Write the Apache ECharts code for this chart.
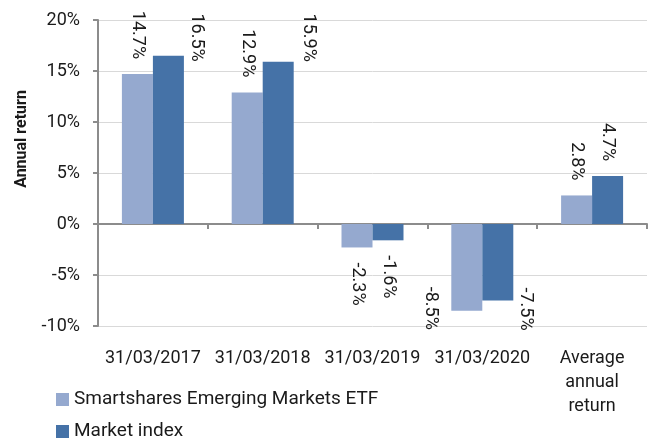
<!DOCTYPE html>
<html>
<head>
<meta charset="utf-8">
<script src="https://cdn.jsdelivr.net/npm/echarts@6/dist/echarts.min.js"></script>
<style>
  html, body { margin: 0; padding: 0; background: #fff; }
  #chart { width: 651px; height: 441px; }
</style>
</head>
<body>
<div id="chart"></div>
<script>
  const categories = ['31/03/2017', '31/03/2018', '31/03/2019', '31/03/2020', 'Average\nannual\nreturn'];
  const seriesNames = ['Smartshares Emerging Markets ETF', 'Market index'];
  const etfReturns = [14.7, 12.9, -2.3, -8.5, 2.8];
  const indexReturns = [16.5, 15.9, -1.6, -7.5, 4.7];
  const yTicks = [-10, -5, 0, 5, 10, 15, 20];

  // labels that Excel pushed sideways because they ran into neighbours / the top
  const etfShift = { 3: [-36, -39] };
  const indexShift = { 0: [28, 21], 1: [30, 15], 3: [28, -28] };

  const font = 'Roboto, "Noto Sans", sans-serif';

  const buildData = (values, shifts) =>
    values.map((v, i) => {
      const s = shifts[i] || [0, 0];
      return {
        value: v,
        label: {
          position: v >= 0 ? 'top' : 'bottom',
          align: v >= 0 ? 'right' : 'left',
          // rotated frame: local x is screen down, local y is screen left
          offset: [s[1], -s[0]],
        },
      };
    });

  const labelStyle = {
    show: true,
    rotate: -90,
    verticalAlign: 'middle',
    distance: 15,
    fontFamily: font,
    fontSize: 18,
    color: '#1a1a1a',
    formatter: (p) => p.value.toFixed(1) + '%',
  };

  const legendBase = {
    orient: 'vertical',
    left: 56,
    padding: 0,
    itemWidth: 13,
    itemHeight: 13,
    itemGap: 4,
    icon: 'rect',
    textStyle: { fontFamily: font, fontSize: 19, color: '#1a1a1a' },
  };

  const option = {
    animation: false,
    textStyle: { fontFamily: font },
    grid: { left: 98, right: 4, top: 20, bottom: 115 },
    legend: [
      Object.assign({ data: [seriesNames[0]], top: 390 }, legendBase),
      Object.assign({ data: [seriesNames[1]], top: 422 }, legendBase),
    ],
    xAxis: {
      type: 'category',
      data: categories,
      axisLine: { onZero: true, lineStyle: { color: '#8c8c8c', width: 2 } },
      axisTick: { show: true, length: 5, lineStyle: { color: '#8c8c8c', width: 2 } },
      axisLabel: {
        interval: 0,
        margin: 20,
        verticalAlign: 'top',
        lineHeight: 24,
        fontFamily: font,
        fontSize: 18,
        color: '#1a1a1a',
      },
    },
    yAxis: {
      type: 'value',
      min: yTicks[0],
      max: yTicks[yTicks.length - 1],
      interval: 5,
      name: 'Annual return',
      nameLocation: 'middle',
      nameGap: 68,
      nameTextStyle: {
        fontFamily: font,
        fontSize: 16,
        fontWeight: 'bold',
        color: '#1a1a1a',
        padding: [0, 0, 0, 68],
      },
      axisLine: { show: true, lineStyle: { color: '#8c8c8c', width: 2 } },
      axisTick: { show: true, length: 5, lineStyle: { color: '#8c8c8c', width: 2 } },
      axisLabel: {
        margin: 18,
        fontFamily: font,
        fontSize: 18,
        color: '#1a1a1a',
        formatter: '{value}%',
      },
      splitLine: { lineStyle: { color: '#d9d9d9', width: 1 } },
    },
    series: [
      {
        name: seriesNames[0],
        type: 'bar',
        barWidth: 31,
        barGap: '0%',
        itemStyle: { color: '#95a9cf' },
        label: labelStyle,
        data: buildData(etfReturns, etfShift),
      },
      {
        name: seriesNames[1],
        type: 'bar',
        barWidth: 31,
        itemStyle: { color: '#4572a7' },
        label: labelStyle,
        data: buildData(indexReturns, indexShift),
      },
    ],
  };

  const myChart = echarts.init(document.getElementById('chart'));
  myChart.setOption(option);
</script>
</body>
</html>
